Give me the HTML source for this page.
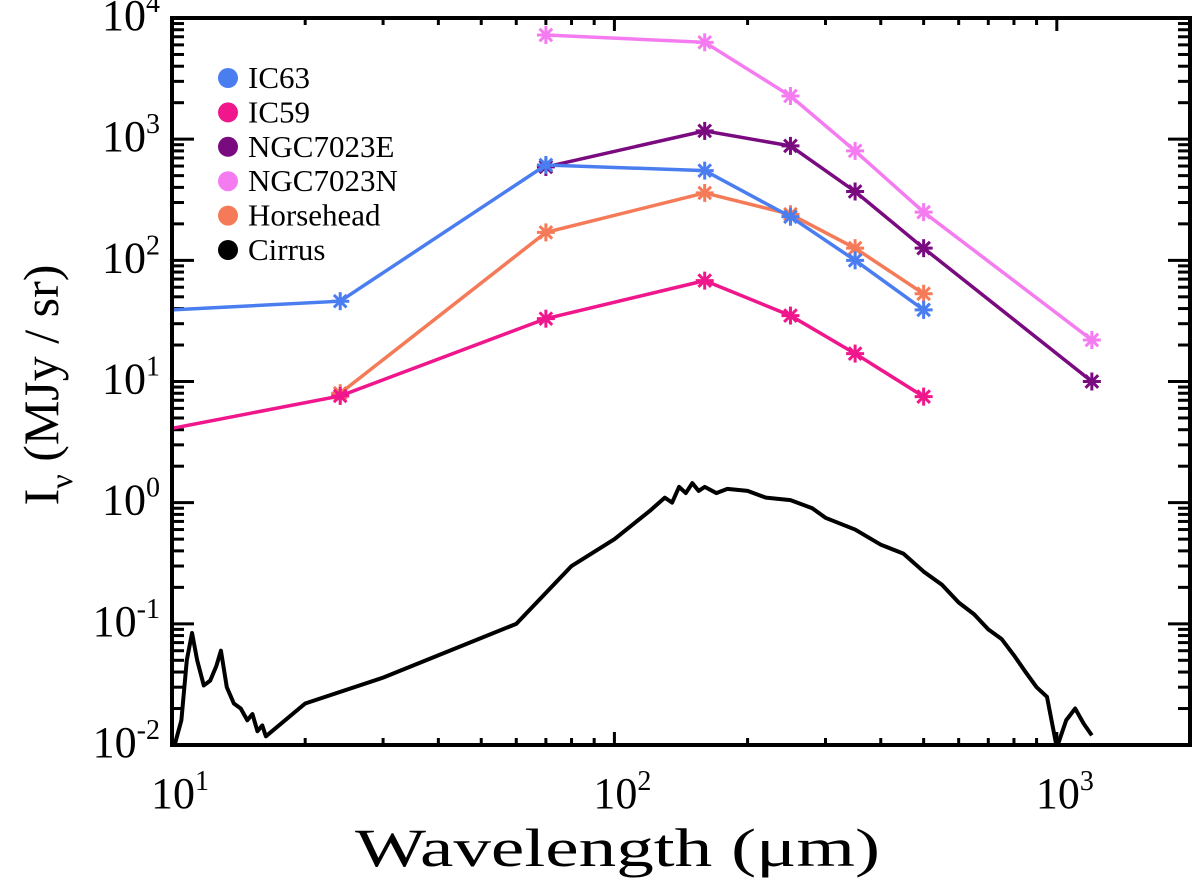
<!DOCTYPE html>
<html><head><meta charset="utf-8"><style>
html,body{margin:0;padding:0;background:#fff;}
svg{display:block;font-family:"Liberation Serif",serif;}
</style></head><body>
<svg id="chart" width="1200" height="888" viewBox="0 0 1200 888" xmlns="http://www.w3.org/2000/svg"></svg>
<script>
const seriesNames = ["IC63","IC59","NGC7023E","NGC7023N","Horsehead"];
const seriesColors = ["#4a7ef0","#f0168c","#7a0a80","#f47cf0","#f47a58"];
const ic63X = [10,24,70,160,250,350,500];
const ic63Y = [39,46,612,550,229,100,39];
const ic59X = [10,24,70,160,250,350,500];
const ic59Y = [4.1,7.6,33,68,35,17,7.5];
const n7023eX = [70,160,250,350,500,1200];
const n7023eY = [590,1170,880,370,126,10];
const n7023nX = [70,160,250,350,500,1200];
const n7023nY = [7240,6300,2270,800,250,22];
const horseX = [24,70,160,250,350,500];
const horseY = [8,170,360,240,126,53];
const cirrusX = [10.1,10.5,10.8,11.1,11.4,11.8,12.2,12.6,12.9,13.3,13.8,14.3,14.8,15.2,15.6,16,16.3,20,30,60,80,100,120,130,135,140,145,150,155,160,170,180,200,220,250,280,300,350,400,450,500,550,600,650,700,750,800,850,900,950,1000,1050,1100,1150,1200];
const cirrusY = [0.0095,0.016,0.05,0.084,0.05,0.031,0.034,0.045,0.06,0.03,0.022,0.02,0.016,0.018,0.013,0.0145,0.0118,0.022,0.036,0.1,0.3,0.5,0.85,1.1,1.0,1.35,1.2,1.45,1.25,1.35,1.2,1.3,1.25,1.1,1.05,0.9,0.75,0.6,0.45,0.38,0.27,0.21,0.15,0.12,0.09,0.075,0.055,0.04,0.03,0.025,0.0095,0.016,0.02,0.015,0.012];
const xTicks = [10,100,1000];
const xTickLabels = ["1","2","3"];
const yTicks = [0.01,0.1,1,10,100,1000,10000];
const yTickLabels = ["-2","-1","0","1","2","3","4"];

const L=172,R=1190,T=18,B=745;
const xMin=Math.log10(10),xMax=Math.log10(2000),yMin=-2,yMax=4;
function sx(v){return L+(Math.log10(v)-xMin)/(xMax-xMin)*(R-L);}
function sy(v){return B-(Math.log10(v)-yMin)/(yMax-yMin)*(B-T);}
const svg=document.getElementById('chart');
const NS="http://www.w3.org/2000/svg";
function mk(tag,attrs,parent){const e=document.createElementNS(NS,tag);for(const k in attrs)e.setAttribute(k,attrs[k]);(parent||svg).appendChild(e);return e;}

const clip=mk('clipPath',{id:'pc'});mk('rect',{x:L,y:T,width:R-L,height:B-T},clip);

const tickG=mk('g',{stroke:'#000','stroke-width':3});


for(let d=1;d<=3;d++){for(let m=1;m<=9;m++){const v=m*Math.pow(10,d);if(v>2000)break;const x=sx(v);const len=m===1?13:7;
mk('line',{x1:x,x2:x,y1:B,y2:B-len},tickG);mk('line',{x1:x,x2:x,y1:T,y2:T+len},tickG);}}
for(let d=-2;d<=4;d++){for(let m=1;m<=9;m++){const v=m*Math.pow(10,d);if(v>10000)break;const y=sy(v);const len=m===1?22:12;
mk('line',{x1:L,x2:L+len,y1:y,y2:y},tickG);mk('line',{x1:R,x2:R-len,y1:y,y2:y},tickG);}}

xTicks.forEach((v,i)=>{const t=mk('text',{x:sx(v)+8,y:808,'font-size':44,'text-anchor':'middle'});


t.appendChild(document.createTextNode('10'));const s=mk('tspan',{dy:-18,'font-size':28},t);s.textContent=xTickLabels[i];});
yTicks.forEach((v,i)=>{const t=mk('text',{x:160,y:sy(v)+12,'font-size':44,'text-anchor':'end'});


t.appendChild(document.createTextNode('10'));const s=mk('tspan',{dy:-18,'font-size':28},t);s.textContent=yTickLabels[i];});

const xt=mk('text',{x:355,y:866,'font-size':54,textLength:525,lengthAdjust:'spacingAndGlyphs'});


xt.textContent='Wavelength (μm)';
const yt=mk('text',{transform:'translate(58,385) rotate(-90)','font-size':50,'text-anchor':'middle'});


yt.appendChild(document.createTextNode('I'));const sub=mk('tspan',{dy:14,'font-size':32},yt);sub.textContent='ν';
const rest=mk('tspan',{dy:-14},yt);rest.textContent=' (MJy / sr)';

const plot=mk('g',{'clip-path':'url(#pc)'});


const cp=mk('polyline',{points:cirrusX.map((x,i)=>sx(x)+','+sy(cirrusY[i])).join(' '),fill:'none',stroke:'#000','stroke-width':4,'stroke-linejoin':'round'},plot);



const allX=[ic63X,ic59X,n7023eX,n7023nX,horseX], allY=[ic63Y,ic59Y,n7023eY,n7023nY,horseY];
const order=[3,2,4,0,1];
order.forEach(k=>{const xs=allX[k],ys=allY[k],c=seriesColors[k];
const g=mk('g',{},plot);


const pl=mk('polyline',{points:xs.map((x,i)=>sx(x)+','+sy(ys[i])).join(' '),fill:'none',stroke:c,'stroke-width':3.5},g);


xs.forEach((x,i)=>{if(x<=10)return;const cx=sx(x),cy=sy(ys[i]),r=9;
const m=mk('g',{stroke:c,'stroke-width':3},g);


mk('line',{x1:cx-r,x2:cx+r,y1:cy,y2:cy},m);mk('line',{x1:cx,x2:cx,y1:cy-r,y2:cy+r},m);
mk('line',{x1:cx-r*.7,x2:cx+r*.7,y1:cy-r*.7,y2:cy+r*.7},m);mk('line',{x1:cx-r*.7,x2:cx+r*.7,y1:cy+r*.7,y2:cy-r*.7},m);});
});

const fr=mk('rect',{x:L,y:T,width:R-L,height:B-T,fill:'none',stroke:'#000','stroke-width':4});



const legNames=seriesNames.concat(['Cirrus']);const legColors=seriesColors.concat(['#000']);
legNames.forEach((n,i)=>{const y=78+i*34.4;
const g=mk('g',{});


mk('circle',{cx:228,cy:y,r:10,fill:legColors[i]},g);
const t=mk('text',{x:248,y:y+10,'font-size':31},g);t.textContent=n;});
</script>
</body></html>
